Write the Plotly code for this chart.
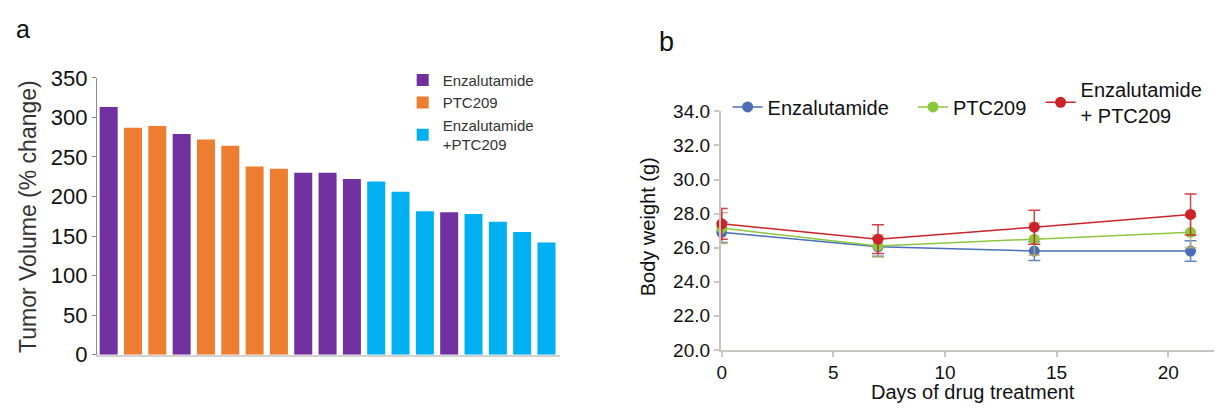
import plotly.graph_objects as go

# ---------------- Panel a data ----------------
tumor_values = [313, 287, 289, 279, 272, 264, 238, 235, 230, 230, 222,
                219, 206, 181.5, 180, 178, 168, 155, 142]
tumor_groups = ["Enzalutamide", "PTC209", "PTC209", "Enzalutamide", "PTC209",
                "PTC209", "PTC209", "PTC209", "Enzalutamide", "Enzalutamide",
                "Enzalutamide", "Combo", "Combo", "Combo", "Enzalutamide",
                "Combo", "Combo", "Combo", "Combo"]
group_order = ["Enzalutamide", "PTC209", "Combo"]
group_labels = {"Enzalutamide": "Enzalutamide", "PTC209": "PTC209",
                "Combo": "Enzalutamide<br>+PTC209"}
group_colors = {"Enzalutamide": "#7030A0", "PTC209": "#ED7D31", "Combo": "#00B0F0"}

# ---------------- Panel b data ----------------
days = [0, 7, 14, 21]
enz_weight = [26.9, 26.05, 25.8, 25.8]
enz_err = [0.6, 0.55, 0.55, 0.6]
ptc_weight = [27.15, 26.1, 26.5, 26.9]
ptc_err = [0.9, 0.65, 0.95, 0.9]
combo_weight = [27.4, 26.5, 27.2, 27.95]
combo_err = [0.9, 0.85, 1.0, 1.2]

FONT = "Liberation Sans, Arial, sans-serif"
W, H = 1216, 419

fig = go.Figure()

for g in group_order:
    idx = [i for i, gg in enumerate(tumor_groups) if gg == g]
    fig.add_trace(go.Bar(
        x=idx, y=[tumor_values[i] for i in idx],
        name=group_labels[g], marker=dict(color=group_colors[g], line=dict(width=0)),
        width=0.74, xaxis="x", yaxis="y", legend="legend",
    ))

series_b = [
    ("Enzalutamide", enz_weight, enz_err, "#4A6FB8", "rgba(74,111,184,0.85)", "legend2"),
    ("PTC209", ptc_weight, ptc_err, "#8DC63F", "rgba(190,180,110,0.85)", "legend3"),
    ("Enzalutamide<br>+ PTC209", combo_weight, combo_err, "#CC2229",
     "rgba(204,34,41,0.85)", "legend4"),
]
for name, vals, errs, col, ecol, leg in series_b:
    fig.add_trace(go.Scatter(
        x=days, y=vals, name=name, mode="lines+markers",
        line=dict(color=col, width=1.5),
        marker=dict(color=col, size=11),
        error_y=dict(type="data", array=errs, visible=True, color=ecol,
                     thickness=1.5, width=6),
        cliponaxis=False, xaxis="x2", yaxis="y2", legend=leg,
    ))

axis_a_line = "#8a8a8a"
axis_b_line = "#c9c5c0"

def small_legend(x_px, y_px):
    return dict(x=x_px / W, y=1 - y_px / H, xanchor="left", yanchor="middle",
                orientation="v", bgcolor="rgba(0,0,0,0)",
                font=dict(size=20, color="#111"), itemclick=False,
                itemdoubleclick=False)

fig.update_layout(
    width=W, height=H,
    margin=dict(l=0, r=0, t=0, b=0),
    paper_bgcolor="white", plot_bgcolor="white",
    font=dict(family=FONT, color="#1a1a1a"),
    barmode="overlay",
    hovermode=False,
    showlegend=True,
    xaxis=dict(domain=[93.3 / W, 557.7 / W], range=[-0.48, 18.55],
               showticklabels=False, ticks="", showgrid=False, zeroline=False,
               showline=True, linecolor="#d2d2d2", linewidth=2, anchor="y"),
    yaxis=dict(domain=[1 - 364.5 / H, 1 - 70 / H], range=[0, 350], dtick=50,
               ticks="outside", ticklen=4, tickcolor=axis_a_line, tickwidth=1,
               showline=True, linecolor=axis_a_line, linewidth=1,
               showgrid=False, zeroline=False, anchor="x",
               tickfont=dict(size=22, color="#111")),
    xaxis2=dict(domain=[719 / W, 1214 / W], range=[-0.05, 22.05], dtick=5,
                ticks="outside", ticklen=5, tickcolor=axis_b_line, tickwidth=1.5,
                showline=True, linecolor=axis_b_line, linewidth=1.5,
                showgrid=False, zeroline=False, anchor="y2",
                tickfont=dict(size=19, color="#111")),
    yaxis2=dict(domain=[1 - 359.3 / H, 1 - 105.7 / H], range=[20, 34], dtick=2,
                tickformat=".1f",
                ticks="outside", ticklen=5, tickcolor=axis_b_line, tickwidth=1.5,
                showline=True, linecolor=axis_b_line, linewidth=1.5,
                showgrid=False, zeroline=False, anchor="x2",
                tickfont=dict(size=19, color="#111")),
    legend=dict(x=400 / W, y=1 - 55 / H, xanchor="left", yanchor="top",
                orientation="v", bgcolor="rgba(0,0,0,0)",
                font=dict(size=15, color="#333"), itemclick=False,
                itemdoubleclick=False),
    legend2=small_legend(726, 101),
    legend3=small_legend(912, 101),
    legend4=small_legend(1040, 96),
    annotations=[
        dict(text="a", x=19 / W, y=1 - 18 / H, xref="paper", yref="paper",
             showarrow=False, xanchor="center", yanchor="middle",
             font=dict(size=25, color="#111")),
        dict(text="b", x=664.5 / W, y=1 - 31.5 / H, xref="paper", yref="paper",
             showarrow=False, xanchor="center", yanchor="middle",
             font=dict(size=27, color="#111")),
        dict(text="Tumor Volume (% change)", x=24 / W, y=1 - 217 / H,
             xref="paper", yref="paper", showarrow=False, textangle=-90,
             xanchor="center", yanchor="middle",
             font=dict(size=23, color="#333")),
        dict(text="Body weight (g)", x=647 / W, y=1 - 228 / H,
             xref="paper", yref="paper", showarrow=False, textangle=-90,
             xanchor="center", yanchor="middle",
             font=dict(size=20, color="#111")),
        dict(text="Days of drug treatment", x=972 / W, y=1 - 404 / H,
             xref="paper", yref="paper", showarrow=False,
             xanchor="center", yanchor="middle",
             font=dict(size=20, color="#111")),
    ],
)

fig.write_html(
    "out.html",
    config={"displayModeBar": False, "staticPlot": False},
    post_script="document.body.style.margin='0';document.body.style.padding='0';"
                "document.body.style.overflow='hidden';",
)
